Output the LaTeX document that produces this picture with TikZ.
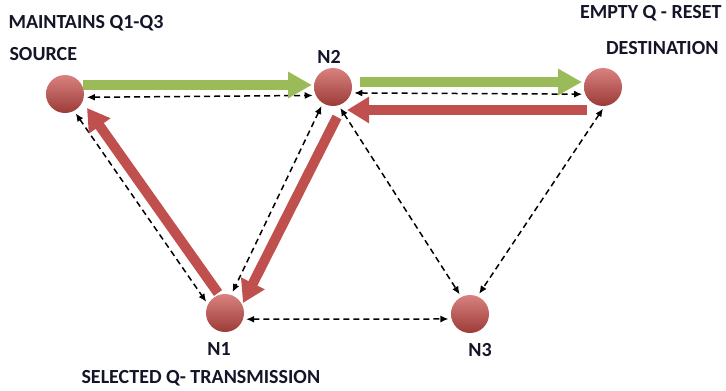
\documentclass[tikz,border=0pt]{standalone}
\usepackage{fontspec}
\setmainfont{Carlito}
\usetikzlibrary{arrows.meta,calc,positioning}
\definecolor{ballred}{RGB}{200,76,72}
\definecolor{flowred}{RGB}{192,80,77}
\definecolor{flowgreen}{RGB}{155,187,89}
\definecolor{labelink}{RGB}{20,22,40}

\begin{document}
\begin{tikzpicture}[x=1pt, y=-1pt, every node/.style={font=\fontsize{20}{22}\selectfont\bfseries, text=labelink},
		netnode/.style={circle, minimum size=38pt, inner sep=0pt, top color=ballred!70!white, middle color=ballred, bottom color=ballred!78!black, shading angle=0},
		dashlink/.style={{Latex[length=8pt,width=7pt]}-{Latex[length=8pt,width=7pt]}, dashed, dash pattern=on 6pt off 4pt, line width=1.5pt, shorten <=3pt, shorten >=3pt},
		greenflow/.style={-{Triangle[width=25pt,length=24pt]}, line width=10pt, draw=flowgreen},
		redflow/.style={-{Triangle[width=25pt,length=22pt]}, line width=10pt, draw=flowred}]
	\useasboundingbox (0,0) rectangle (726,391);
	% stations
	\node[netnode] (S) at (65,94) {};
	\node[netnode] (N2) at (333,87) {};
	\node[netnode] (D) at (603,87) {};
	\node[netnode] (N1) at (225,313) {};
	\node[netnode] (N3) at (470,314) {};
	% labels
	\node[anchor=west] (maintain) at (5,23) {MAINTAINS Q1-Q3};
	\node[anchor=west] (source) at (6,54) {SOURCE};
	\node (lblN2) at (329,57) {N2};
	\node[anchor=east] (reset) at (725,13) {EMPTY Q - RESET};
	\node[anchor=east] (dest) at (722,48) {DESTINATION};
	\node (lblN1) at (219,349) {N1};
	\node (lblN3) at (480,350) {N3};
	\node[anchor=west] (selected) at (78,378) {SELECTED Q- TRANSMISSION};
	% dashed links
	\draw[dashlink] (S.-10) -- (N2.-154);
	\draw[dashlink] (N2.-18) -- (D.-158);
	\draw[dashlink] (S.-62) -- (N1.153);
	\draw[dashlink] (N2.-122) -- (N1.71);
	\draw[dashlink] (N2.-73) -- (N3.117);
	\draw[dashlink] (D.-85) -- (N3.67);
	\draw[dashlink] (N1.-19) -- (N3.-165);
	% flows
	\draw[greenflow] ($(S)+(18,-9)$) -- ($(N2)+(-21,-2)$);
	\draw[greenflow] ($(N2)+(27,-5)$) -- ($(D)+(-21,-5)$);
	\draw[redflow] ($(D)+(-16,23)$) -- ($(N2)+(14,23)$);
	\draw[redflow] ($(N1)+(-7,-20)$) -- ($(S)+(22,14)$);
	\draw[redflow] ($(N2)+(4,30)$) -- ($(N1)+(18,-10)$);
\end{tikzpicture}
\end{document}
